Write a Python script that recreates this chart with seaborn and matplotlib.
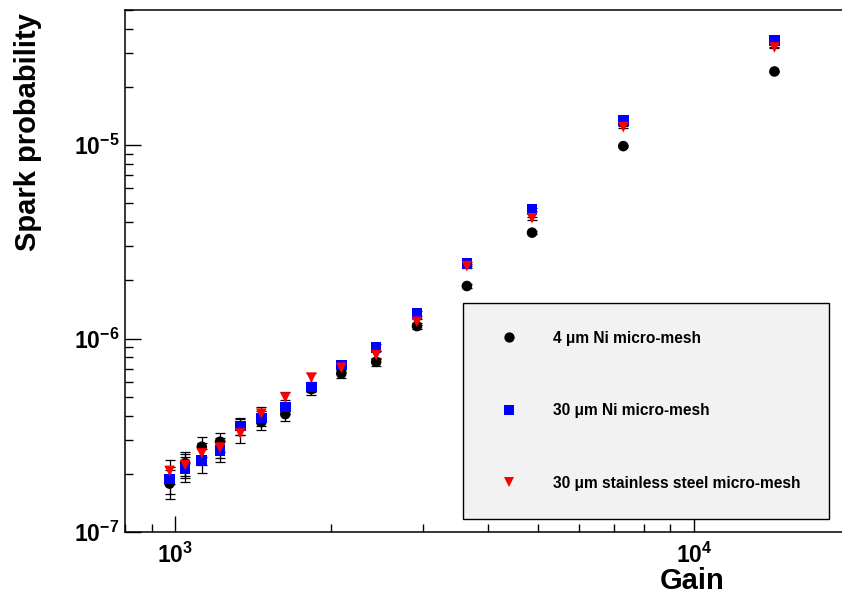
import numpy as np
import pandas as pd
import matplotlib
matplotlib.use("Agg")
import matplotlib.pyplot as plt
from matplotlib.lines import Line2D
from matplotlib.ticker import LogLocator, FuncFormatter, NullFormatter
import seaborn as sns

# ---------------- data ----------------
gain = [975, 1045, 1125, 1220, 1335, 1465, 1630, 1830, 2090, 2440, 2925, 3650, 4875, 7310, 14300]

prob_4um_ni = [1.78e-7, 2.27e-7, 2.76e-7, 2.93e-7, 3.50e-7, 3.70e-7, 4.07e-7, 5.48e-7, 6.60e-7,
               7.58e-7, 1.16e-6, 1.87e-6, 3.53e-6, 9.89e-6, 2.405e-5]
err_4um_ni = [0.30e-7, 0.32e-7, 0.33e-7, 0.33e-7, 0.33e-7, 0.33e-7, 0.34e-7, 0.35e-7, 0.37e-7,
              0.38e-7, 0.40e-7, 0.50e-7, 0.70e-7, 1.2e-7, 2.0e-7]

prob_30um_ni = [1.88e-7, 2.13e-7, 2.35e-7, 2.63e-7, 3.53e-7, 3.89e-7, 4.44e-7, 5.63e-7, 7.29e-7,
                9.00e-7, 1.35e-6, 2.44e-6, 4.64e-6, 1.343e-5, 3.478e-5]
err_30um_ni = [0.30e-7, 0.32e-7, 0.33e-7, 0.33e-7, 0.34e-7, 0.34e-7, 0.35e-7, 0.36e-7, 0.38e-7,
               0.40e-7, 0.42e-7, 0.55e-7, 0.80e-7, 1.4e-7, 2.4e-7]

prob_30um_ss = [2.07e-7, 2.22e-7, 2.55e-7, 2.73e-7, 3.23e-7, 4.09e-7, 4.96e-7, 6.28e-7, 7.06e-7,
                8.21e-7, 1.22e-6, 2.37e-6, 4.19e-6, 1.24e-5, 3.20e-5]
err_30um_ss = [0.30e-7, 0.32e-7, 0.33e-7, 0.33e-7, 0.33e-7, 0.34e-7, 0.35e-7, 0.36e-7, 0.37e-7,
               0.39e-7, 0.41e-7, 0.55e-7, 0.75e-7, 1.3e-7, 2.2e-7]

series_labels = ["4 μm Ni micro-mesh", "30 μm Ni micro-mesh", "30 μm stainless steel micro-mesh"]
series_colors = ["#000000", "#0000ff", "#ff0000"]
series_markers = ["o", "s", "v"]

x_label = "Gain"
y_label = "Spark probability"

# ---------------- table ----------------
values = [prob_4um_ni, prob_30um_ni, prob_30um_ss]
errors = [err_4um_ni, err_30um_ni, err_30um_ss]
frames = []
for lab, v, e in zip(series_labels, values, errors):
    frames.append(pd.DataFrame({"gain": gain, "prob": v, "err": e, "series": lab}))
df = pd.concat(frames, ignore_index=True)

# ---------------- style ----------------
sns.set_theme(style="ticks")
plt.rcParams["font.family"] = ["Liberation Sans", "DejaVu Sans"]
plt.rcParams["font.weight"] = "bold"
plt.rcParams["text.color"] = "black"
plt.rcParams["axes.labelcolor"] = "black"
plt.rcParams["xtick.color"] = "black"
plt.rcParams["ytick.color"] = "black"
plt.rcParams["mathtext.fontset"] = "custom"
plt.rcParams["mathtext.rm"] = "Liberation Sans:bold"
plt.rcParams["mathtext.bf"] = "Liberation Sans:bold"
plt.rcParams["mathtext.it"] = "Liberation Sans:bold"

fig = plt.figure(figsize=(8.42, 5.95), dpi=100)
fig.patch.set_facecolor("white")
ax = fig.add_axes([125 / 842, 63 / 595, 725 / 842, 522 / 595])
ax.set_facecolor("white")

# error bars
for lab, col in zip(series_labels, series_colors):
    sub = df[df["series"] == lab]
    ax.errorbar(sub["gain"], sub["prob"], yerr=sub["err"], fmt="none", ecolor="black",
                elinewidth=0.9, capsize=3.5, capthick=0.9, zorder=2)

sns.scatterplot(data=df, x="gain", y="prob", hue="series", style="series",
                hue_order=series_labels, style_order=series_labels,
                palette=dict(zip(series_labels, series_colors)),
                markers=dict(zip(series_labels, series_markers)),
                s=58, linewidth=0, edgecolor="none", legend=False, ax=ax, zorder=3)

ax.set_xscale("log")
ax.set_yscale("log")
ax.set_xlim(800, 20000)
ax.set_ylim(1e-7, 5e-5)

def dec_fmt(v, pos):
    e = int(round(np.log10(v)))
    return r"$\mathbf{10^{%d}}$" % e

for axis in (ax.xaxis, ax.yaxis):
    axis.set_major_locator(LogLocator(base=10, numticks=20))
    axis.set_minor_locator(LogLocator(base=10, subs=np.arange(2, 10), numticks=20))
    axis.set_major_formatter(FuncFormatter(dec_fmt))
    axis.set_minor_formatter(NullFormatter())

ax.tick_params(axis="both", which="major", direction="in", length=11.5, width=1.0,
               labelsize=16.5, color="black", labelcolor="black")
ax.tick_params(axis="both", which="minor", direction="in", length=5.5, width=1.0, color="black")
ax.tick_params(axis="y", which="both", left=True, right=False, pad=4)
ax.tick_params(axis="x", which="both", bottom=True, top=False, pad=8)

for sp in ax.spines.values():
    sp.set_visible(True)
    sp.set_color("black")
    sp.set_linewidth(1.1)

ax.set_xlabel(x_label, fontsize=21, fontweight="bold", va="baseline", ha="center", color="black")
ax.xaxis.set_label_coords((692 - 125) / 725, (532 - 589) / 522)
ax.set_ylabel(y_label, fontsize=21, fontweight="bold", loc="top", color="black")
ax.yaxis.set_label_coords((42 - 125) / 725, 1 - 3 / 522)

# legend
handles = [Line2D([], [], linestyle="none", marker=m, color=c, markersize=7.4,
                  markeredgewidth=0) for m, c in zip(series_markers, series_colors)]
leg = ax.legend(handles, series_labels, loc="upper left",
                bbox_to_anchor=(463 / 842, 1 - 302.5 / 595), bbox_transform=fig.transFigure,
                borderaxespad=0, frameon=True, fancybox=False, framealpha=1,
                prop={"family": "Liberation Sans", "weight": "bold", "size": 11.2},
                borderpad=1.8, labelspacing=3.7, handlelength=2.3, handletextpad=1.7)
for t in leg.get_texts():
    t.set_color("black")
frame = leg.get_frame()
frame.set_facecolor("#f2f2f2")
frame.set_edgecolor("black")
frame.set_linewidth(1.0)

fig.savefig("out.png", dpi=100)
